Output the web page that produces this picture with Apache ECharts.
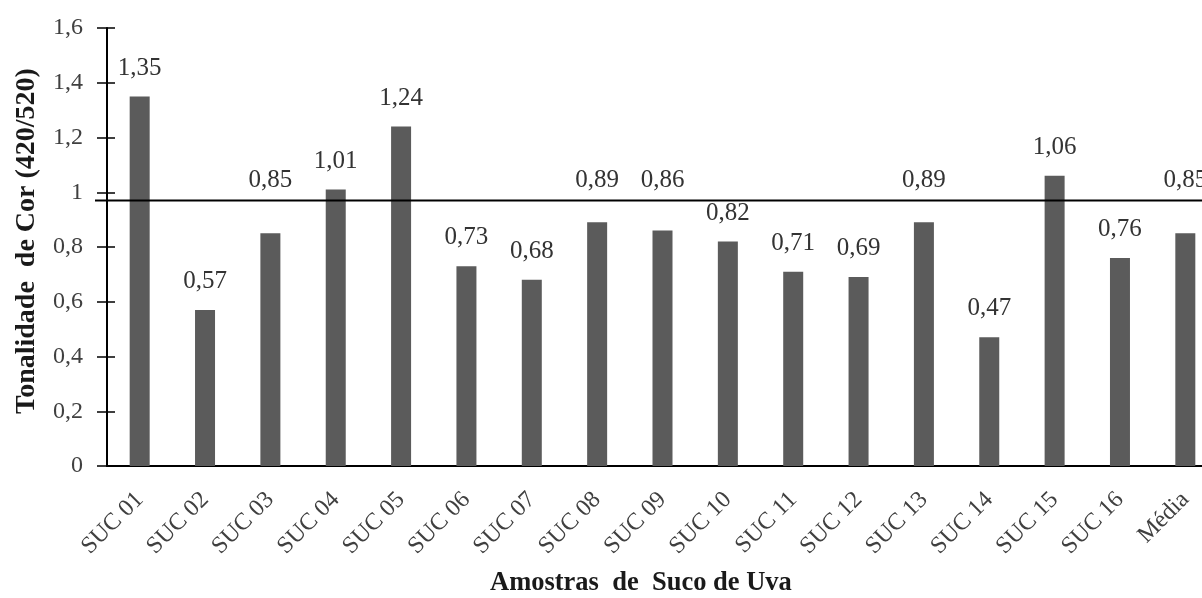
<!DOCTYPE html>
<html>
<head>
<meta charset="utf-8">
<script src="https://cdn.jsdelivr.net/npm/echarts@6/dist/echarts.min.js"></script>
<style>
  html, body { margin: 0; padding: 0; background: #fff; }
  #chart { width: 1202px; height: 598px; }
</style>
</head>
<body>
<div id="chart"></div>
<script>
// Color hue ratio (420/520) for each grape juice sample and the overall mean
const categories = ['SUC 01', 'SUC 02', 'SUC 03', 'SUC 04', 'SUC 05', 'SUC 06', 'SUC 07', 'SUC 08',
  'SUC 09', 'SUC 10', 'SUC 11', 'SUC 12', 'SUC 13', 'SUC 14', 'SUC 15', 'SUC 16', 'Média'];
const values = [1.35, 0.57, 0.85, 1.01, 1.24, 0.73, 0.68, 0.89, 0.86, 0.82, 0.71, 0.69, 0.89, 0.47, 1.06, 0.76, 0.85];
const yTicks = [0, 0.2, 0.4, 0.6, 0.8, 1, 1.2, 1.4, 1.6];
const referenceValue = 0.97;
// samples whose value labels sit above the reference line
const liftedLabels = ['SUC 03', 'SUC 08', 'SUC 09', 'SUC 13', 'Média'];
const liftedLevel = 1.05;

const serif = '"Liberation Serif", "Times New Roman", serif';
const fmt = v => String(v).replace('.', ',');

const chart = echarts.init(document.getElementById('chart'), null, { renderer: 'canvas' });

const yMin = yTicks[0], yMax = yTicks[yTicks.length - 1], yStep = yTicks[1] - yTicks[0];

function buildOption(labelOffsets) {
  return {
    animation: false,
    backgroundColor: '#ffffff',
    title: {
      text: 'Amostras  de  Suco de Uva',
      left: 485,
      top: 565,
      textStyle: { fontFamily: serif, fontWeight: 'bold', fontSize: 26.5, color: '#1a1a1a' }
    },
    grid: [
      { left: 107, width: 1111, top: 28, bottom: 132, outerBoundsMode: 'none', containLabel: false },
      { left: 95, width: 1107, top: 28, bottom: 132, outerBoundsMode: 'none', containLabel: false }
    ],
    xAxis: [
      {
        type: 'category',
        gridIndex: 0,
        data: categories,
        axisLine: { lineStyle: { color: '#000', width: 2 } },
        axisTick: { show: false },
        axisLabel: {
          rotate: 45,
          margin: 30,
          fontFamily: serif,
          fontSize: 24,
          color: '#404040',
          interval: 0
        }
      },
      { type: 'value', gridIndex: 1, min: 0, max: 1, show: false }
    ],
    yAxis: [
      {
        type: 'value',
        gridIndex: 0,
        min: yMin,
        max: yMax,
        interval: yStep,
        name: 'Tonalidade  de Cor (420/520)',
        nameLocation: 'middle',
        nameGap: 66,
        nameTextStyle: { fontFamily: serif, fontWeight: 'bold', fontSize: 28, color: '#1a1a1a', padding: [0, 0, 0, 12] },
        axisLine: { show: true, lineStyle: { color: '#000', width: 2 } },
        axisTick: { show: true, length: 10, lineStyle: { color: '#000', width: 1.5 } },
        axisLabel: {
          margin: 24,
          fontFamily: serif,
          fontSize: 24,
          color: '#404040',
          formatter: v => fmt(Math.round(v * 10) / 10)
        },
        splitLine: { show: false }
      },
      {
        // inner half of the crossing tick marks
        type: 'value',
        gridIndex: 0,
        min: yMin,
        max: yMax,
        interval: yStep,
        position: 'left',
        axisLine: { show: false },
        axisTick: { show: true, inside: true, length: 8, lineStyle: { color: '#000', width: 1.5 } },
        axisLabel: { show: false },
        splitLine: { show: false }
      },
      { type: 'value', gridIndex: 1, min: yMin, max: yMax, show: false }
    ],
    series: [
      {
        type: 'bar',
        xAxisIndex: 0,
        yAxisIndex: 0,
        barWidth: 20,
        itemStyle: { color: '#5b5b5b' },
        data: values.map((v, i) => ({
          value: v,
          label: labelOffsets ? { offset: [0, labelOffsets[i]] } : undefined
        })),
        label: {
          show: true,
          position: 'top',
          distance: 16,
          fontFamily: serif,
          fontSize: 25,
          color: '#333',
          formatter: p => fmt(p.value)
        },
        z: 2
      },
      {
        type: 'line',
        xAxisIndex: 1,
        yAxisIndex: 2,
        data: [[0, referenceValue], [1, referenceValue]],
        symbol: 'none',
        lineStyle: { color: '#000', width: 2 },
        silent: true,
        z: 5
      }
    ]
  };
}

chart.setOption(buildOption(null));

// lift selected labels so they clear the reference line
const liftPx = chart.convertToPixel({ yAxisIndex: 0 }, liftedLevel);
const offsets = values.map((v, i) => {
  if (!liftedLabels.includes(categories[i])) return 0;
  const topPx = chart.convertToPixel({ yAxisIndex: 0 }, v);
  const normalCenter = topPx - 30;
  return Math.min(0, liftPx - normalCenter);
});
chart.setOption(buildOption(offsets));
</script>
</body>
</html>
